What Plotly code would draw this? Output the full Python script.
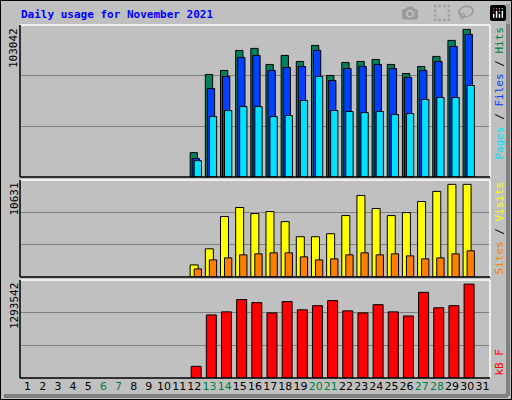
import plotly.graph_objects as go

days = list(range(1, 32))
active = list(range(12, 31))
hits = [17020, 71570, 74370, 88350, 89750, 78560, 84860, 80660, 91850, 70870, 79960, 80660, 82060, 78560, 72270, 77160, 84160, 95350, 103042]
files = [12820, 61780, 70170, 83460, 84860, 74370, 76470, 77170, 88360, 67380, 75770, 77170, 78570, 75770, 69480, 74370, 80670, 91160, 99550]
pages = [11420, 42190, 46390, 49190, 49190, 42190, 42890, 53380, 70170, 46390, 45690, 44990, 45690, 43590, 44290, 54080, 55480, 55480, 63870]
visits = [1387, 3236, 6934, 7974, 7280, 7511, 6356, 4622, 4622, 4969, 7049, 9360, 7858, 7049, 7396, 8667, 9823, 10631, 10631]
sites = [924, 1964, 2196, 2542, 2658, 2773, 2773, 2311, 1964, 2080, 2542, 2773, 2542, 2658, 2427, 2080, 2196, 2658, 3005]
kbytes = [160500, 868700, 911200, 1081100, 1038600, 897000, 1052800, 939500, 996100, 1067000, 925300, 897000, 1010300, 911200, 854500, 1180300, 967800, 996100, 1293542]
weekend = [6, 7, 13, 14, 20, 21, 27, 28]
max_labels = ["103042", "10631", "1293542"]

W, H = 512, 400
PX = 470 / 31  # px per day
def u(px): return px / PX

fig = go.Figure()
line = dict(color="black", width=1)
def bar(y, color, ax, off_px, w_px):
    fig.add_trace(go.Bar(x=active, y=y, marker=dict(color=color, line=line),
                         offset=-0.5 + u(off_px), width=u(w_px),
                         xaxis=ax[0], yaxis=ax[1], showlegend=False, hoverinfo="skip"))

bar(hits, "#00805C", ("x", "y"), 3.4, 7.3)
bar(files, "#0040FF", ("x", "y"), 5.4, 7.3)
bar(pages, "#00E0FF", ("x", "y"), 7.4, 7.3)
bar(visits, "#FFFF00", ("x2", "y2"), 3.4, 8)
bar(sites, "#FF8000", ("x2", "y2"), 7.4, 7.3)
bar(kbytes, "#FF0000", ("x3", "y3"), 4.4, 10)

xdom = [20 / W, 490 / W]
def yd(top, bot): return [1 - bot / H, 1 - top / H]
panels = [(25, 177, 106100), (180, 277, 11131), (280, 378, 1350200)]
bg = "#C0C0C0"
fig.update_layout(width=W, height=H, margin=dict(l=0, r=0, t=0, b=0),
                  paper_bgcolor=bg, plot_bgcolor=bg, barmode="overlay",
                  font=dict(family="DejaVu Sans Mono", size=11, color="black"))
names = ["", "2", "3"]
for i, (t, b, rng) in enumerate(panels):
    n = names[i]
    fig.layout["xaxis" + n] = dict(domain=xdom, range=[0.5, 31.5], showgrid=False, zeroline=False,
                                   showticklabels=False, fixedrange=True,
                                   anchor="y" + n)
    fig.layout["yaxis" + n] = dict(domain=yd(t, b), range=[0, rng], tickvals=[rng / 3, 2 * rng / 3],
                                   showticklabels=False, gridcolor="#808080", gridwidth=1,
                                   zeroline=False, fixedrange=True, anchor="x" + n)
    x0, x1 = 20, 490
    fig.add_shape(type="line", xref="paper", yref="paper", x0=x0 / W, x1=x1 / W, y0=1 - t / H, y1=1 - t / H, line=dict(color="white", width=1.5))
    fig.add_shape(type="line", xref="paper", yref="paper", x0=x1 / W, x1=x1 / W, y0=1 - t / H, y1=1 - b / H, line=dict(color="white", width=1.5))
    fig.add_shape(type="line", xref="paper", yref="paper", x0=x0 / W, x1=x0 / W, y0=1 - t / H, y1=1 - b / H, line=dict(color="black", width=1.5))
    fig.add_shape(type="line", xref="paper", yref="paper", x0=x0 / W, x1=x1 / W, y0=1 - b / H, y1=1 - b / H, line=dict(color="black", width=1.5))
    fig.add_annotation(text=max_labels[i], textangle=-90, xref="paper", yref="paper",
                       x=14 / W, y=1 - (t + 1) / H, xanchor="center", yanchor="top",
                       showarrow=False, font=dict(size=11, family="DejaVu Sans Mono"))

ticktext = [f"<span style='color:#008040'>{d}</span>" if d in weekend else str(d) for d in days]
fig.layout.xaxis3.update(showticklabels=True, tickvals=days, ticktext=ticktext, ticks="",
                         tickangle=0, tickfont=dict(size=11, family="DejaVu Sans"))

rl = [("<span style='color:#00E0FF'>Pages</span> / <span style='color:#0040FF'>Files</span> / <span style='color:#008040'>Hits</span>", 25, "top"),
      ("<span style='color:#FF8000'>Sites</span> / <span style='color:#FFFF00'>Visits</span>", 180, "top"),
      ("<span style='color:#FF0000'>kB F</span>", 378, "bottom")]
for txt, yy, ya in rl:
    fig.add_annotation(text=txt, textangle=-90, xref="paper", yref="paper", x=499 / W,
                       y=1 - yy / H, xanchor="center", yanchor=ya,
                       showarrow=False, font=dict(size=11, family="DejaVu Sans Mono"))

fig.add_annotation(text="<b>Daily usage for November 2021</b>", xref="paper", yref="paper",
                   x=19 / W, y=1 - 15 / H, xanchor="left", yanchor="middle", showarrow=False,
                   font=dict(size=11, color="#0000FF", family="DejaVu Sans Mono"))
fig.add_shape(type="rect", xref="paper", yref="paper", x0=0, x1=1, y0=0, y1=1, line=dict(color="black", width=2))
fig.add_shape(type="line", xref="paper", yref="paper", x0=4 / W, x1=508 / W, y0=1 - 396 / H, y1=1 - 396 / H, line=dict(color="#808080", width=4))
fig.add_shape(type="line", xref="paper", yref="paper", x0=508 / W, x1=508 / W, y0=1 - 4 / H, y1=1 - 396 / H, line=dict(color="#808080", width=4))
fig.write_html("out.html")

with open("out.html", encoding="utf-8") as f:
    html = f.read()
html = html.replace("<head>", "<head><style>html,body{margin:0;padding:0;overflow:hidden;}</style>", 1)
with open("out.html", "w", encoding="utf-8") as f:
    f.write(html)
